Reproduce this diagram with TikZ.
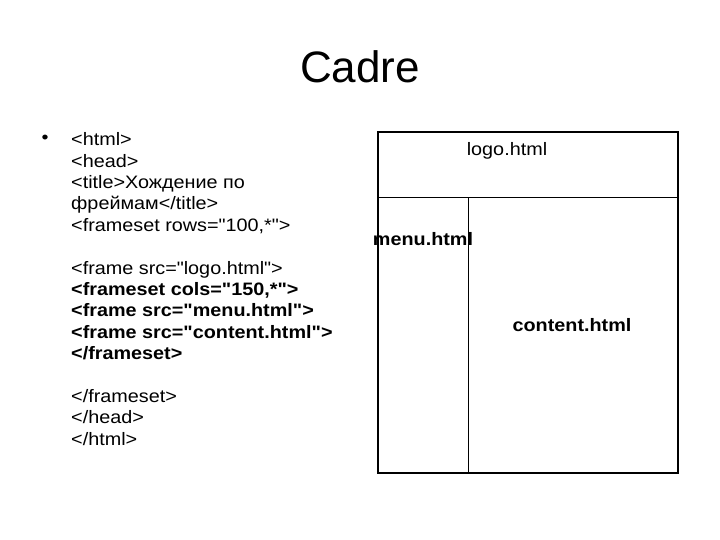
\documentclass[tikz,border=0pt]{standalone}
\usepackage{fontspec}
\setmainfont{Liberation Sans}[Ligatures=TeXOff]
\newfontfamily\slidefont{Liberation Sans}[Ligatures=TeXOff, FakeStretch=1.1]
\usepackage{tikz}
\usetikzlibrary{positioning}

\begin{document}
\begin{tikzpicture}[x=1pt, y=-1pt,
    txt/.style={inner sep=0pt, font=\slidefont\fontsize{18}{21.4}\selectfont},
    boldtxt/.style={txt, font=\slidefont\fontsize{18}{21.4}\selectfont\bfseries}]
    \useasboundingbox (0,0) rectangle (720,540);
    
    % Tiêu đề
    \node[inner sep=0pt, anchor=base, font=\fontsize{44}{50}\selectfont] (title) at (360,83) {Cadre};
    
    % Mã HTML
    \node[txt] (bullet) at (45,139) {•};
    \node[txt, anchor=north west, align=left] (code) at (71,132.5) {%
        <html>\\
        <head>\\
        <title>Хождение по\\
        фреймам</title>\\
        <frameset rows="100,*">\\[21.4pt]
        <frame src="logo.html">\\
        \textbf{<frameset cols="150,*">}\\
        \textbf{<frame src="menu.html">}\\
        \textbf{<frame src="content.html">}\\
        \textbf{</frameset>}\\[21.4pt]
        </frameset>\\
        </head>\\
        </html>};
    
    % Các khung
    \coordinate (nw) at (378,132);
    \coordinate (se) at (678,473);
    \draw[line width=1pt] (378,197.5) -- (678,197.5);
    \draw[line width=1pt] (468,197.5) -- (468,473);
    \draw[line width=2pt] (nw) rectangle (se);
    
    \node[txt, anchor=base] (logo) at (507,156) {logo.html};
    \node[boldtxt, anchor=base] (menu) at (423,245) {menu.html};
    \node[boldtxt, anchor=base] (content) at (572,331) {content.html};
\end{tikzpicture}
\end{document}
